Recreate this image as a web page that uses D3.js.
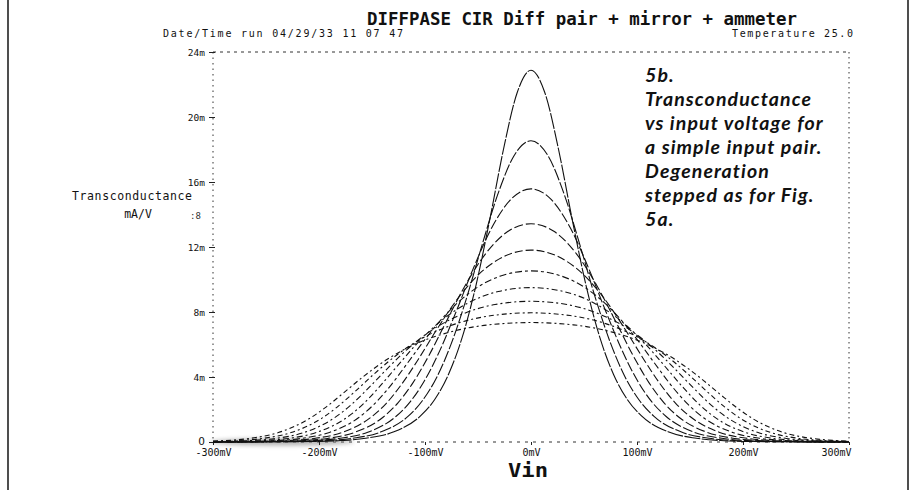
<!DOCTYPE html>
<html>
<head>
<meta charset="utf-8">
<script src="https://cdn.jsdelivr.net/npm/d3@7"></script>
<style>
  html, body { margin: 0; padding: 0; background: #fff; }
  svg { display: block; }
</style>
</head>
<body>
<svg id="chart" width="918" height="490"></svg>
<script>
// Axis ticks
const vinTicks = [-300, -200, -100, 0, 100, 200, 300];   // mV
const gmTicks = [0, 4, 8, 12, 16, 20, 24];               // mA/V

// Transconductance (mA/V) vs Vin (mV), one trace per degeneration step
const gmStep0 = [[-300,0],[-208,0.03],[-182,0.08],[-156,0.23],[-130,0.61],[-104,1.62],[-91,2.60],[-78,4.14],[-65,6.42],[-52,9.61],[-39,13.65],[-26,18.00],[-13,21.51],[0,22.88],[13,21.51],[26,18.00],[39,13.65],[52,9.61],[65,6.42],[78,4.14],[91,2.60],[104,1.62],[130,0.61],[156,0.23],[182,0.08],[208,0.03],[300,0]];
const gmStep1 = [[-300,0],[-220,0.03],[-194,0.08],[-168,0.23],[-142,0.61],[-115.8,1.59],[-102.5,2.54],[-89,3.97],[-75.4,6.02],[-61.3,8.75],[-46.8,11.98],[-31.6,15.19],[-16,17.62],[0,18.54],[16,17.62],[31.6,15.19],[46.8,11.98],[61.3,8.75],[75.4,6.02],[89,3.97],[102.5,2.54],[115.8,1.59],[142,0.61],[168,0.23],[194,0.08],[220,0.03],[300,0]];
const gmStep2 = [[-300,0],[-232,0.03],[-206,0.08],[-180,0.23],[-154,0.60],[-127.5,1.57],[-114,2.47],[-100.1,3.81],[-85.7,5.67],[-70.6,8.03],[-54.5,10.67],[-37.3,13.15],[-19,14.93],[0,15.58],[19,14.93],[37.3,13.15],[54.5,10.67],[70.6,8.03],[85.7,5.67],[100.1,3.81],[114,2.47],[127.5,1.57],[154,0.60],[180,0.23],[206,0.08],[232,0.03],[300,0]];
const gmStep3 = [[-300,0],[-245,0.03],[-218,0.08],[-192,0.22],[-166,0.60],[-139.3,1.54],[-125.5,2.41],[-111.1,3.67],[-96,5.36],[-79.9,7.42],[-62.2,9.62],[-42.9,11.58],[-22,12.95],[0,13.43],[22,12.95],[42.9,11.58],[62.2,9.62],[79.9,7.42],[96,5.36],[111.1,3.67],[125.5,2.41],[139.3,1.54],[166,0.60],[192,0.22],[218,0.08],[245,0.03],[300,0]];
const gmStep4 = [[-300,0],[-257,0.03],[-231,0.08],[-204.6,0.22],[-178,0.59],[-151,1.52],[-136.9,2.35],[-122.2,3.54],[-106.4,5.08],[-89.2,6.89],[-70,8.75],[-48.6,10.36],[-25,11.43],[0,11.81],[25,11.43],[48.6,10.36],[70,8.75],[89.2,6.89],[106.4,5.08],[122.2,3.54],[136.9,2.35],[151,1.52],[178,0.59],[204.6,0.22],[231,0.08],[257,0.03],[300,0]];
const gmStep5 = [[-300,0.01],[-269,0.03],[-243,0.08],[-216.7,0.22],[-190.2,0.59],[-162.8,1.49],[-148.4,2.30],[-133.2,3.41],[-116.8,4.83],[-98.5,6.44],[-77.7,8.03],[-54.2,9.36],[-27.9,10.23],[0,10.53],[27.9,10.23],[54.2,9.36],[77.7,8.03],[98.5,6.44],[116.8,4.83],[133.2,3.41],[148.4,2.30],[162.8,1.49],[190.2,0.59],[216.7,0.22],[243,0.08],[269,0.03],[300,0.01]];
const gmStep6 = [[-300,0.01],[-281,0.03],[-255,0.08],[-228.8,0.22],[-202.2,0.59],[-174.6,1.47],[-159.9,2.24],[-144.3,3.30],[-127.1,4.60],[-107.8,6.04],[-85.5,7.42],[-59.8,8.54],[-30.9,9.26],[0,9.50],[30.9,9.26],[59.8,8.54],[85.5,7.42],[107.8,6.04],[127.1,4.60],[144.3,3.30],[159.9,2.24],[174.6,1.47],[202.2,0.59],[228.8,0.22],[255,0.08],[281,0.03],[300,0.01]];
const gmStep7 = [[-300,0.02],[-293,0.03],[-267,0.08],[-241,0.22],[-214.3,0.58],[-186.3,1.45],[-171.4,2.19],[-155.3,3.19],[-137.4,4.39],[-117,5.69],[-93.2,6.90],[-65.5,7.85],[-33.9,8.46],[0,8.66],[33.9,8.46],[65.5,7.85],[93.2,6.90],[117,5.69],[137.4,4.39],[155.3,3.19],[171.4,2.19],[186.3,1.45],[214.3,0.58],[241,0.22],[267,0.08],[293,0.03],[300,0.02]];
const gmStep8 = [[-300,0.04],[-279,0.08],[-253,0.22],[-226.3,0.58],[-198.1,1.43],[-182.9,2.15],[-166.3,3.09],[-147.8,4.20],[-126.3,5.37],[-101,6.44],[-71.1,7.27],[-36.9,7.78],[0,7.95],[36.9,7.78],[71.1,7.27],[101,6.44],[126.3,5.37],[147.8,4.20],[166.3,3.09],[182.9,2.15],[198.1,1.43],[226.3,0.58],[253,0.22],[279,0.08],[300,0.04]];
const gmStep9 = [[-300,0.06],[-291.6,0.08],[-265.3,0.22],[-238.3,0.58],[-209.9,1.41],[-194.4,2.10],[-177.4,2.99],[-158.1,4.03],[-135.6,5.09],[-108.7,6.04],[-76.7,6.76],[-39.9,7.21],[0,7.35],[39.9,7.21],[76.7,6.76],[108.7,6.04],[135.6,5.09],[158.1,4.03],[177.4,2.99],[194.4,2.10],[209.9,1.41],[238.3,0.58],[265.3,0.22],[291.6,0.08],[300,0.06]];

const traces = [gmStep0, gmStep1, gmStep2, gmStep3, gmStep4, gmStep5, gmStep6, gmStep7, gmStep8, gmStep9];
// plotter pen patterns, from near-solid (no degeneration) to broken
const penDash = ["16,1.5", "12,2", "10,2.5", "9,3", "8,3", "7,3,3,3", "6,3,2,3", "6,3,2,3", "5,3,2,3", "5,3,2,3"];

const svg = d3.select("#chart");
const mono = "'DejaVu Sans Mono', monospace";

const x = d3.scaleLinear().domain([-300, 300]).range([213, 849]);
const y = d3.scaleLinear().domain([0, 24]).range([442, 52]);

// page frame rules
svg.append("line").attr("x1", 8).attr("x2", 8).attr("y1", 0).attr("y2", 490)
  .attr("stroke", "#222").attr("stroke-width", 1.6);
svg.append("line").attr("x1", 908).attr("x2", 908).attr("y1", 0).attr("y2", 490)
  .attr("stroke", "#222").attr("stroke-width", 1.6);

// titles
svg.append("text").attr("x", 367).attr("y", 25)
  .attr("font-family", mono).attr("font-weight", "bold").attr("font-size", 18)
  .attr("textLength", 430).attr("lengthAdjust", "spacingAndGlyphs")
  .attr("fill", "#111")
  .text("DIFFPASE CIR Diff pair + mirror + ammeter");
svg.append("text").attr("x", 163).attr("y", 37)
  .attr("font-family", mono).attr("font-size", 10)
  .attr("textLength", 240).attr("lengthAdjust", "spacing")
  .attr("fill", "#111")
  .text("Date/Time run  04/29/33  11 07 47");
svg.append("text").attr("x", 732).attr("y", 37)
  .attr("font-family", mono).attr("font-size", 10)
  .attr("textLength", 121).attr("lengthAdjust", "spacing")
  .attr("fill", "#111")
  .text("Temperature   25.0");

// dotted plot frame
const frame = svg.append("g").attr("fill", "none").attr("stroke", "#333").attr("stroke-width", 1);
frame.append("line").attr("x1", x(-300)).attr("x2", x(-300)).attr("y1", y(24)).attr("y2", y(0))
  .attr("stroke-dasharray", "1.5,4");
frame.append("line").attr("x1", x(300)).attr("x2", x(300)).attr("y1", y(24)).attr("y2", y(0))
  .attr("stroke-dasharray", "1.5,3.5");
frame.append("line").attr("x1", x(-300)).attr("x2", x(300)).attr("y1", y(24)).attr("y2", y(24))
  .attr("stroke-dasharray", "3,4");
frame.append("line").attr("x1", x(-300)).attr("x2", x(300)).attr("y1", y(0)).attr("y2", y(0))
  .attr("stroke-dasharray", "3,5");

// smudge along the baseline on the left
const defs = svg.append("defs");
defs.append("filter").attr("id", "smudge").attr("x", "-20%").attr("y", "-200%").attr("width", "140%").attr("height", "500%")
  .append("feGaussianBlur").attr("stdDeviation", 2.2);
svg.append("ellipse").attr("cx", x(-235)).attr("cy", y(0)).attr("rx", 72).attr("ry", 3.5)
  .attr("fill", "#777").attr("opacity", 0.55).attr("filter", "url(#smudge)");

// Y axis
const yAxis = svg.append("g").attr("transform", `translate(${x(-300)},0)`)
  .call(d3.axisLeft(y).tickValues(gmTicks).tickSize(4)
    .tickFormat(d => d === 0 ? "0" : d + "m"));
yAxis.select(".domain").remove();
yAxis.selectAll(".tick line").attr("stroke", "#222").attr("x2", 2).attr("x1", -4);
yAxis.selectAll(".tick text").attr("font-family", mono).attr("font-size", 9.5)
  .attr("fill", "#111").attr("x", -8)
  .filter(d => d === 0).attr("font-size", 10.5).attr("dy", "0.2em")
  .attr("font-family", "'DejaVu Sans', sans-serif");

// X axis
const xAxis = svg.append("g").attr("transform", `translate(0,${y(0)})`)
  .call(d3.axisBottom(x).tickValues(vinTicks).tickSize(3).tickFormat(d => d + "mV"));
xAxis.select(".domain").remove();
xAxis.selectAll(".tick line").attr("stroke", "#222");
xAxis.selectAll(".tick text").attr("font-family", mono).attr("font-size", 10)
  .attr("fill", "#111").attr("y", 7)
  .filter(d => d === 300).attr("text-anchor", "end").attr("dx", 2);

// axis titles
svg.append("text").attr("x", 192).attr("y", 200).attr("text-anchor", "end")
  .attr("font-family", mono).attr("font-size", 11.5).attr("fill", "#111")
  .attr("textLength", 120).attr("lengthAdjust", "spacing")
  .text("Transconductance");
svg.append("text").attr("x", 138).attr("y", 218).attr("text-anchor", "middle")
  .attr("font-family", mono).attr("font-size", 11.5).attr("fill", "#111")
  .text("mA/V");
svg.append("text").attr("x", 190).attr("y", 219)
  .attr("font-family", mono).attr("font-size", 9).attr("fill", "#333")
  .text(":8");
svg.append("text").attr("x", 528).attr("y", 477).attr("text-anchor", "middle")
  .attr("font-family", mono).attr("font-weight", "bold").attr("font-size", 20)
  .attr("textLength", 40).attr("lengthAdjust", "spacingAndGlyphs")
  .attr("fill", "#111").text("Vin");

// traces
const line = d3.line().x(d => x(d[0])).y(d => y(d[1])).curve(d3.curveMonotoneX);
svg.append("g").selectAll("path").data(traces).join("path")
  .attr("d", line)
  .attr("fill", "none")
  .attr("stroke", "#111")
  .attr("stroke-width", 1.1)
  .attr("stroke-dasharray", (d, i) => penDash[i]);

// caption
const caption = ["5b.", "Transconductance", "vs input voltage for", "a simple input pair.",
  "Degeneration", "stepped as for Fig.", "5a."];
svg.append("g").selectAll("text").data(caption).join("text")
  .attr("x", 645).attr("y", (d, i) => 82 + i * 24)
  .attr("font-family", "Lato, sans-serif").attr("font-style", "italic")
  .attr("font-weight", "bold").attr("font-size", 19.5).attr("letter-spacing", 1.1)
  .attr("fill", "#111")
  .text(d => d);
</script>
</body>
</html>
